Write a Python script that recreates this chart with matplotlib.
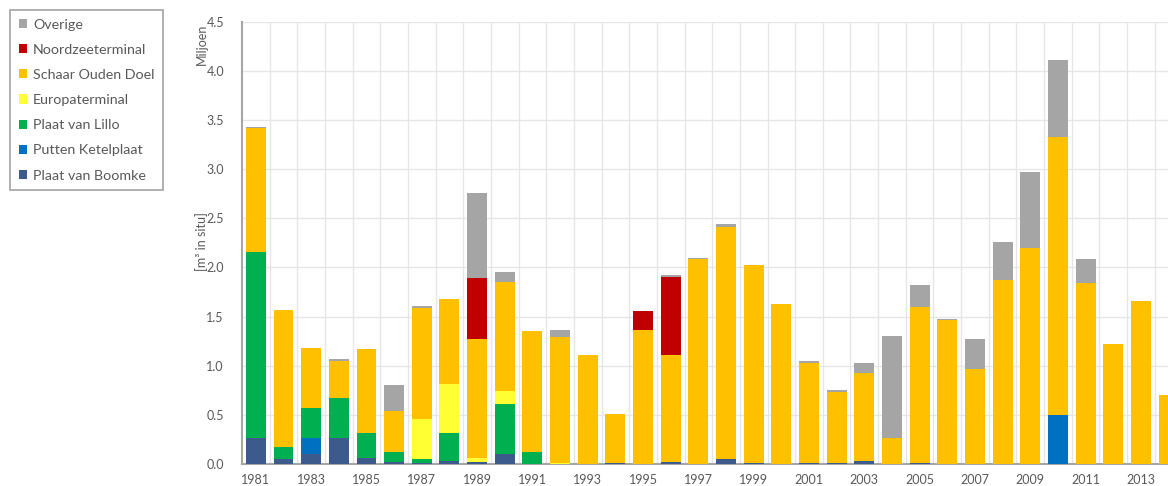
import matplotlib
matplotlib.use("Agg")
import matplotlib.pyplot as plt
from matplotlib.patches import Patch
import numpy as np

years = list(range(1981, 2015))

boomke = [0.26, 0.05, 0.10, 0.26, 0.065, 0.025, 0.015, 0.035, 0.02, 0.10,
          0.0, 0.0, 0.0, 0.01, 0.0, 0.025, 0.0, 0.05, 0.015, 0.0,
          0.015, 0.012, 0.03, 0.0, 0.008, 0.0, 0.0, 0.0, 0.0, 0.0,
          0.0, 0.0, 0.0, 0.0]
ketelplaat = [0.0, 0.0, 0.16, 0.0, 0.0, 0.0, 0.0, 0.0, 0.0, 0.0,
              0.0, 0.0, 0.0, 0.0, 0.0, 0.0, 0.0, 0.0, 0.0, 0.0,
              0.0, 0.0, 0.0, 0.0, 0.0, 0.0, 0.0, 0.0, 0.0, 0.50,
              0.0, 0.0, 0.0, 0.0]
lillo = [1.90, 0.12, 0.31, 0.415, 0.255, 0.095, 0.035, 0.28, 0.0, 0.51,
         0.12, 0.0, 0.0, 0.0, 0.0, 0.0, 0.0, 0.0, 0.0, 0.0,
         0.0, 0.0, 0.0, 0.0, 0.0, 0.0, 0.0, 0.0, 0.0, 0.0,
         0.0, 0.0, 0.0, 0.0]
europa = [0.0, 0.0, 0.0, 0.0, 0.0, 0.0, 0.41, 0.50, 0.04, 0.135,
          0.0, 0.015, 0.0, 0.0, 0.0, 0.0, 0.0, 0.0, 0.0, 0.0,
          0.0, 0.0, 0.0, 0.0, 0.0, 0.0, 0.0, 0.0, 0.0, 0.0,
          0.0, 0.0, 0.0, 0.0]
schaar = [1.26, 1.40, 0.61, 0.373, 0.85, 0.42, 1.13, 0.865, 1.21, 1.11,
          1.23, 1.28, 1.105, 0.495, 1.365, 1.085, 2.09, 2.365, 2.005, 1.625,
          1.01, 0.717, 0.895, 0.26, 1.585, 1.46, 0.965, 1.87, 2.195, 2.83,
          1.845, 1.225, 1.655, 0.70]
noord = [0.0, 0.0, 0.0, 0.0, 0.0, 0.0, 0.0, 0.0, 0.62, 0.0,
         0.0, 0.0, 0.0, 0.0, 0.195, 0.795, 0.0, 0.0, 0.0, 0.0,
         0.0, 0.0, 0.0, 0.0, 0.0, 0.0, 0.0, 0.0, 0.0, 0.0,
         0.0, 0.0, 0.0, 0.0]
overige = [0.01, 0.0, 0.0, 0.02, 0.0, 0.265, 0.02, 0.0, 0.865, 0.095,
           0.0, 0.07, 0.0, 0.0, 0.0, 0.015, 0.005, 0.03, 0.0, 0.0,
           0.02, 0.02, 0.10, 1.045, 0.23, 0.015, 0.31, 0.39, 0.78, 0.785,
           0.24, 0.0, 0.005, 0.0]

series = [
    ("Plaat van Boomke", boomke, "#3C5A8C"),
    ("Putten Ketelplaat", ketelplaat, "#0070C0"),
    ("Plaat van Lillo", lillo, "#00B050"),
    ("Europaterminal", europa, "#FFFF33"),
    ("Schaar Ouden Doel", schaar, "#FFC000"),
    ("Noordzeeterminal", noord, "#C00000"),
    ("Overige", overige, "#A5A5A5"),
]

plt.rcParams['font.family'] = ['Lato', 'DejaVu Sans']
txt = "#595959"

fig = plt.figure(figsize=(11.68, 4.86), dpi=100)
ax = fig.add_axes([242 / 1168, 1 - 464 / 486, 1 - 242 / 1168, (464 - 21.7) / 486])

x = np.array(years)
bottom = np.zeros(len(years))
for name, vals, col in series:
    v = np.array(vals)
    ax.bar(x, v, width=0.72, bottom=bottom, color=col, label=name, linewidth=0, zorder=3)
    bottom += v

ax.set_xlim(1980.5, 2013.98)
ax.set_ylim(0, 4.5)
ax.set_yticks(np.arange(0, 4.51, 0.5))
ax.set_yticklabels([f"{t:.1f}" for t in np.arange(0, 4.51, 0.5)])
ax.set_xticks(years[::2])
ax.set_xticklabels([str(y) for y in years[::2]])
ax.set_xticks(np.arange(1981.5, 2014, 1), minor=True)
ax.tick_params(axis='both', which='both', length=0, colors=txt, labelsize=9)
ax.tick_params(axis='y', pad=13)
ax.tick_params(axis='x', pad=7)

ax.grid(True, axis='y', color="#E6E6E6", linewidth=1, zorder=0)
ax.grid(True, axis='x', which='minor', color="#E6E6E6", linewidth=1, zorder=0)
ax.grid(False, axis='x', which='major')
for s in ['top', 'right']:
    ax.spines[s].set_visible(False)
ax.spines['left'].set_color("#A6A6A6")
ax.spines['left'].set_linewidth(1.5)
ax.spines['bottom'].set_color("#A6A6A6")
ax.spines['bottom'].set_linewidth(1.5)
ax.set_axisbelow(True)

fig.text(202 / 1168, 1 - 44 / 486, "Miljoen", rotation=90, ha='center', va='center',
         color=txt, fontsize=9)
fig.text(202 / 1168, 1 - 242 / 486, "[m³ in situ]", rotation=90, ha='center', va='center',
         color=txt, fontsize=9)

handles = [Patch(facecolor=col, edgecolor='none', label=name) for name, vals, col in series[::-1]]
leg = fig.legend(handles=handles, loc='upper left', bbox_to_anchor=(10 / 1168, 1 - 10 / 486),
                 bbox_transform=fig.transFigure, frameon=True, fancybox=False,
                 fontsize=10.3, handlelength=0.6, handleheight=0.6, handletextpad=0.4,
                 labelspacing=0.92, borderpad=0.6, labelcolor=txt, borderaxespad=0)
leg.get_frame().set_edgecolor("#8C8C8C")
leg.get_frame().set_linewidth(1.2)

fig.savefig("out.png", dpi=100)
